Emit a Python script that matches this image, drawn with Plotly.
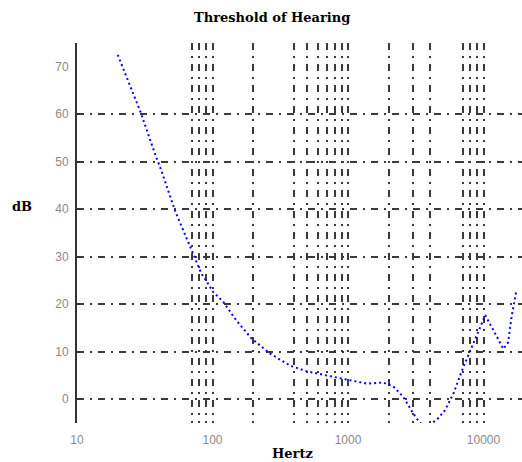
import plotly.graph_objects as go

# Threshold of hearing curve
freq_hz = [20, 29.5, 37.7, 41.5, 52.9, 72, 83, 91, 101, 120, 150, 194, 218, 266, 373,
           495, 697, 977, 1370, 1820, 2160, 2560, 3030, 3390, 3900, 4500, 5200, 6000,
           7100, 8200, 9200, 10300, 12200, 14000, 15200, 16100, 17400]
level_db = [72.5, 60.4, 51.6, 48.5, 39.7, 30.6, 26.4, 24.7, 22.6, 20.5, 16.6, 12.8, 11.6,
            9.6, 7.1, 5.9, 5.0, 4.1, 3.3, 3.5, 2.7, 0.5, -3.0, -5.0, -5.5, -4.4, -2.3, 1.2,
            6.8, 11.0, 14.5, 17.7, 13.8, 10.6, 12.0, 17.3, 22.6]

x_ticks = [10, 100, 1000, 10000]
x_ticktext = ["10", "100", "1000", "10000"]
x_grid = [70, 80, 90, 100, 200, 400, 500, 600, 700, 800, 900, 1000,
          2000, 3000, 4000, 7000, 8000, 9000, 10000]
y_ticks = [0, 10, 20, 30, 40, 50, 60, 70]
y_grid = [0, 10, 20, 30, 40, 50, 60]

x_range = [1, 4.284]
y_range = [-5, 75]

GRID_DASH = "7px,6px,2px,6px"
GRID_COLOR = "#3a3a3a"
TICK_FONT = dict(family="Liberation Sans", size=12, color="#8a8a8a")
LABEL_FONT = dict(family="DejaVu Serif", size=13, color="#000000")

fig = go.Figure()
fig.add_trace(go.Scatter(
    x=freq_hz, y=level_db, mode="lines",
    line=dict(color="#0000ff", width=2, dash="2px,3px"),
    xaxis="x", yaxis="y", showlegend=False, hoverinfo="skip",
))
# empty trace registering the grid-only overlay axes
fig.add_trace(go.Scatter(x=[], y=[], xaxis="x2", yaxis="y2", showlegend=False))

fig.update_layout(
    width=522, height=462,
    margin=dict(l=77, r=0, t=43, b=39),
    paper_bgcolor="white", plot_bgcolor="white",
    xaxis=dict(
        type="log", range=x_range, tickvals=x_ticks, ticktext=x_ticktext,
        showgrid=False, zeroline=False, showline=False, ticks="",
        tickfont=TICK_FONT, ticklabelstandoff=8,
    ),
    yaxis=dict(
        range=y_range, tickvals=y_ticks, showgrid=False, zeroline=False,
        showline=True, linecolor="#333333", linewidth=2, ticks="",
        tickfont=TICK_FONT, ticklabelstandoff=4,
    ),
    xaxis2=dict(
        type="log", range=x_range, overlaying="x", anchor="y2",
        tickvals=x_grid, showticklabels=False, ticks="",
        showgrid=True, griddash=GRID_DASH, gridcolor=GRID_COLOR, gridwidth=1.5,
        zeroline=False, showline=False,
    ),
    yaxis2=dict(
        range=y_range, overlaying="y", anchor="x2", side="left",
        tickvals=y_grid, showticklabels=False, ticks="inside", ticklen=3,
        tickcolor="#333333", tickwidth=2,
        showgrid=True, griddash=GRID_DASH, gridcolor=GRID_COLOR, gridwidth=1.5,
        zeroline=False, showline=False,
    ),
    annotations=[
        dict(text="<b>Threshold of Hearing</b>", xref="paper", yref="paper",
             x=0.438, y=1.066, xanchor="center", yanchor="middle",
             showarrow=False, font=LABEL_FONT),
        dict(text="<b>Hertz</b>", xref="paper", yref="paper",
             x=0.485, y=-0.079, xanchor="center", yanchor="middle",
             showarrow=False, font=LABEL_FONT),
        dict(text="<b>dB</b>", xref="paper", yref="paper",
             x=-0.124, y=0.571, xanchor="center", yanchor="middle",
             showarrow=False, font=LABEL_FONT),
    ],
)

fig.write_html("out.html")
